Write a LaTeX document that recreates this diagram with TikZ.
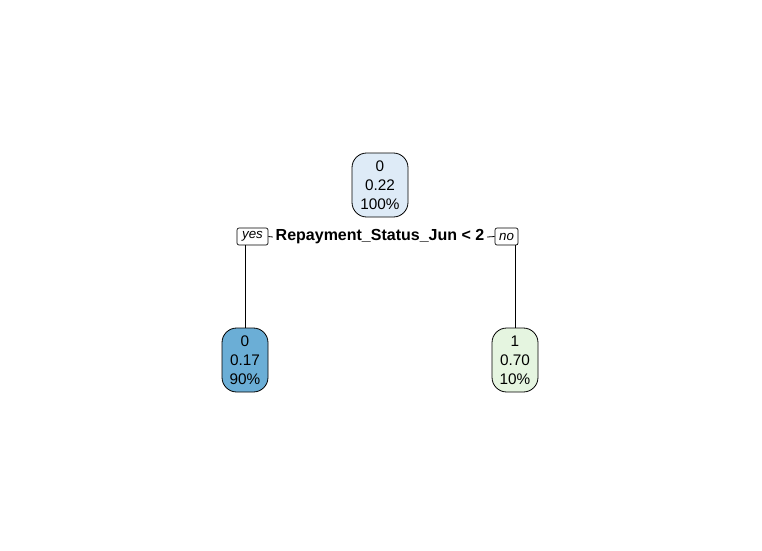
\documentclass[tikz,border=0pt]{standalone}
\usepackage{fontspec}
\setmainfont{Liberation Sans}
\usetikzlibrary{positioning}

\definecolor{rootfill}{RGB}{222,235,247}
\definecolor{leftfill}{RGB}{107,174,214}
\definecolor{rightfill}{RGB}{229,245,224}

\begin{document}
\begin{tikzpicture}[x=0.75pt,y=-0.75pt,
  every node/.style={inner sep=0pt},
  treenode/.style={draw=black,line width=0.6pt,rounded corners=11pt,align=center,
    minimum height=48pt,font=\fontsize{11.5}{14.2}\selectfont},
  answer/.style={draw=black,line width=0.5pt,rounded corners=1.5pt,minimum height=12.75pt,
    font=\fontsize{10}{11}\selectfont\itshape},
  link/.style={line width=0.6pt}]

\useasboundingbox (0,0) rectangle (762,550);

\node [treenode,fill=rootfill,minimum width=42pt] (root) at (380,185) {0\\0.22\\100\%};

\node [answer,minimum width=23.25pt] (yes) at (252.5,236.5) {yes};
\node [answer,minimum width=17.25pt] (no) at (506.5,236.5) {no};
\node [font=\fontsize{12}{14}\selectfont\bfseries] (split) at (380,237) {Repayment\_Status\_Jun < 2};

\node [treenode,fill=leftfill,minimum width=34.5pt] (leafA) at (245,360) {0\\0.17\\90\%};
\node [treenode,fill=rightfill,minimum width=34.5pt] (leafB) at (515,360) {1\\0.70\\10\%};

\draw [link] (yes.east) -- ([xshift=-2pt]split.west);
\draw [link] ([xshift=2pt]split.east) -- (no.west);
\draw [link] (yes.south -| leafA.north) -- (leafA.north);
\draw [link] (no.south -| leafB.north) -- (leafB.north);

\end{tikzpicture}
\end{document}
